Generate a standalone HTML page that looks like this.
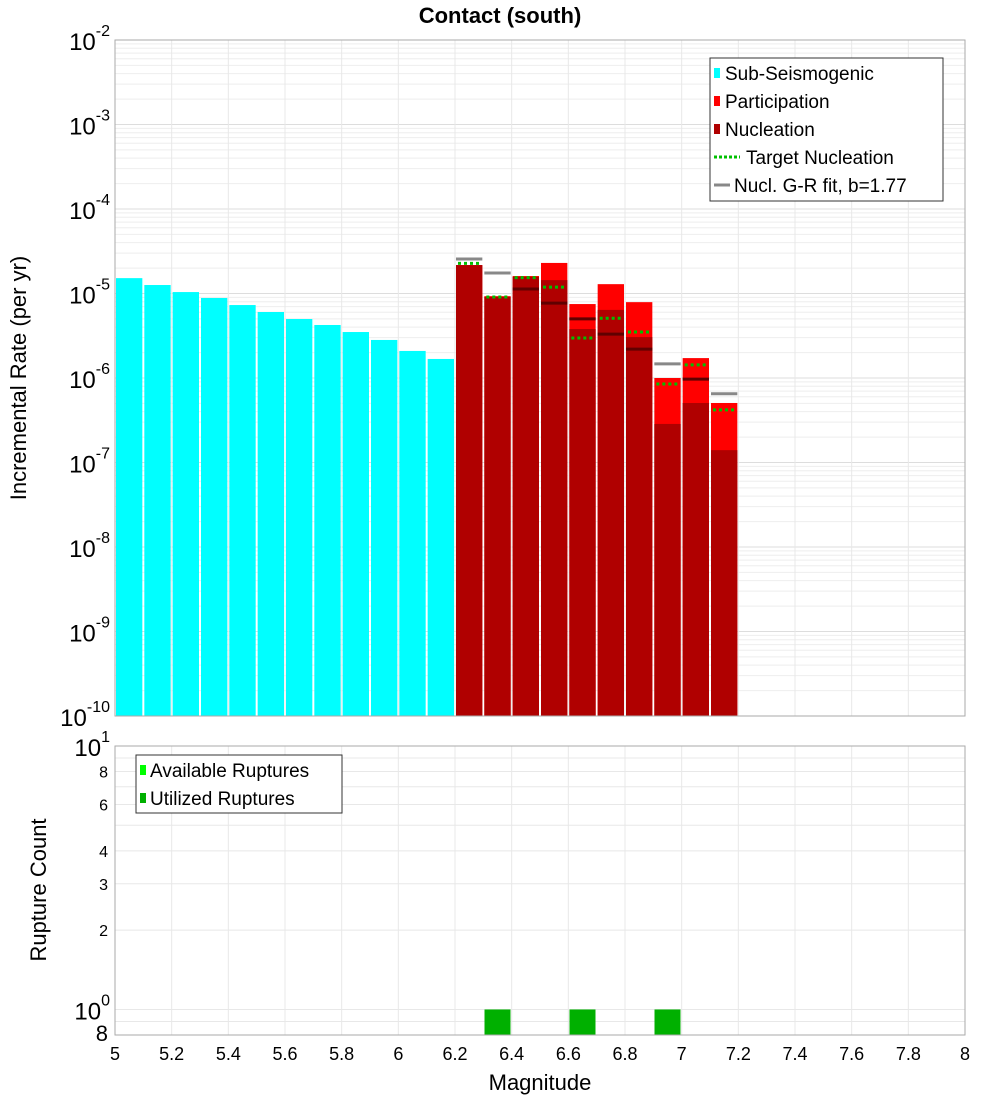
<!DOCTYPE html>
<html><head><meta charset="utf-8"><style>
body{margin:0;background:#fff;width:1000px;height:1100px;overflow:hidden}
svg{font-family:"Liberation Sans","DejaVu Sans",sans-serif}
</style></head><body>
<svg id="c" width="1000" height="1100"></svg>
<script>
const bins=[5.05,5.15,5.25,5.35,5.45,5.55,5.65,5.75,5.85,5.95,6.05,6.15];
const subSeis=[1.52e-5,1.26e-5,1.04e-5,8.85e-6,7.3e-6,6.04e-6,4.99e-6,4.24e-6,3.5e-6,2.82e-6,2.09e-6,1.68e-6];
const supBins=[6.25,6.35,6.45,6.55,6.65,6.75,6.85,6.95,7.05,7.15];
const particip=[2.17e-5,9.3e-6,1.61e-5,2.3e-5,7.5e-6,1.29e-5,7.9e-6,1.0e-6,1.72e-6,5.06e-7];
const nucl=[2.17e-5,9.1e-6,1.57e-5,1.44e-5,3.8e-6,6.4e-6,3.05e-6,2.86e-7,5.06e-7,1.4e-7];
const target=[2.27e-5,9.1e-6,1.54e-5,1.19e-5,2.97e-6,5.1e-6,3.5e-6,8.5e-7,1.43e-6,4.2e-7];
const grFit=[2.56e-5,1.75e-5,1.13e-5,7.7e-6,5.0e-6,3.3e-6,2.2e-6,1.47e-6,9.7e-7,6.5e-7];
const ruptMags=[6.35,6.65,6.95];
const ruptCounts=[1,1,1];
const xTicks=[5,5.2,5.4,5.6,5.8,6,6.2,6.4,6.6,6.8,7,7.2,7.4,7.6,7.8,8];
const topExps=[-10,-9,-8,-7,-6,-5,-4,-3,-2];

const NS="http://www.w3.org/2000/svg";const svg=document.getElementById('c');
function el(t,a,txt){const e=document.createElementNS(NS,t);for(const k in a)e.setAttribute(k,a[k]);if(txt!==undefined)e.textContent=txt;svg.appendChild(e);return e;}
const X0=115,X1=965;const xs=m=>X0+(m-5)/3*(X1-X0);
const T0=40,T1=716;const ys=v=>T0+(-2-Math.log10(v))/8*(T1-T0);
const B0=746,B1=1035;const yb=v=>B0+(1-Math.log10(v))/(1-Math.log10(0.8))*(B1-B0);
const bw=(X1-X0)/30;

// top grid
let g;
for(const e of topExps){for(let k=1;k<10;k++){const v=k*Math.pow(10,e);if(v>0.0100001)continue;const y=ys(v);
g=el('line',{x1:X0,x2:X1,y1:y,y2:y,stroke:k==1?'#ddd':'#eee','stroke-width':1});
}}
for(const t of xTicks){const x=xs(t);
g=el('line',{x1:x,x2:x,y1:T0,y2:T1,stroke:'#e8e8e8'});
g=el('line',{x1:x,x2:x,y1:B0,y2:B1,stroke:'#e8e8e8'});}
for(const v of [0.8,0.9,1,2,3,4,5,6,7,8,9,10]){const y=yb(v);
g=el('line',{x1:X0,x2:X1,y1:y,y2:y,stroke:'#e8e8e8'});}

// sub-seismogenic
bins.forEach((m,i)=>{const y=ys(subSeis[i]);const b=el('rect',{x:xs(m)-bw/2+1,y:y,width:bw-2,height:T1-y,fill:'#00ffff'});
});
supBins.forEach((m,i)=>{let y=ys(particip[i]);let b=el('rect',{x:xs(m)-bw/2+1,y:y,width:bw-2,height:T1-y,fill:'#ff0000'});

y=ys(nucl[i]);b=el('rect',{x:xs(m)-bw/2+1,y:y,width:bw-2,height:T1-y,fill:'#b00000'});
});
supBins.forEach((m,i)=>{const y=ys(grFit[i]);const inside=grFit[i]<particip[i];
const l=el('line',{x1:xs(m)-bw/2+1,x2:xs(m)+bw/2-1,y1:y,y2:y,stroke:inside?'#600000':'#888','stroke-width':3});

const t=el('line',{x1:xs(m)-bw/2+3,x2:xs(m)+bw/2-3,y1:ys(target[i]),y2:ys(target[i]),stroke:'#00c000','stroke-width':3,'stroke-dasharray':'3,3'});
});

// bottom bars
ruptMags.forEach((m,i)=>{const y=yb(ruptCounts[i]);const b=el('rect',{x:xs(m)-13,y:y,width:26,height:B1-y,fill:'#00b000'});
});

// frames
g=el('rect',{x:X0,y:T0,width:X1-X0,height:T1-T0,fill:'none',stroke:'#aaa'});
g=el('rect',{x:X0,y:B0,width:X1-X0,height:B1-B0,fill:'none',stroke:'#aaa'});

// top y labels
for(const e of topExps){const y=ys(Math.pow(10,e));const t=el('text',{x:110,y:y+10,'text-anchor':'end','font-size':24});

const a=document.createElementNS(NS,'tspan');a.textContent='10';t.appendChild(a);
const b=document.createElementNS(NS,'tspan');b.setAttribute('dy','-14');b.setAttribute('font-size','16');b.textContent=String(e);t.appendChild(b);}
// bottom y labels
[[10,'10','1'],[1,'10','0']].forEach(([v,b,e])=>{const t=el('text',{x:110,y:yb(v)+10,'text-anchor':'end','font-size':24});

const a=document.createElementNS(NS,'tspan');a.textContent=b;t.appendChild(a);
const s=document.createElementNS(NS,'tspan');s.setAttribute('dy','-14');s.setAttribute('font-size','16');s.textContent=e;t.appendChild(s);});
[[8,16],[6,16],[4,16],[3,16],[2,16],[0.8,22]].forEach(([v,f])=>{const t=el('text',{x:108,y:yb(v)+6,'text-anchor':'end','font-size':f},String(v==0.8?8:v));
});
for(const v of xTicks){const t=el('text',{x:xs(v),y:1060,'text-anchor':'middle','font-size':18},String(v));
}

g=el('text',{x:500,y:23,'text-anchor':'middle','font-size':22,'font-weight':'bold'},'Contact (south)');
g=el('text',{x:540,y:1090,'text-anchor':'middle','font-size':22},'Magnitude');
g=el('text',{x:0,y:0,'text-anchor':'middle','font-size':22,transform:'translate(26,378) rotate(-90)'},'Incremental Rate (per yr)');
g=el('text',{x:0,y:0,'text-anchor':'middle','font-size':22,transform:'translate(46,890) rotate(-90)'},'Rupture Count');

// legends
g=el('rect',{x:710,y:58,width:233,height:143,fill:'#fff',stroke:'#333'});
const leg=[['Sub-Seismogenic','#00ffff','box'],['Participation','#ff0000','box'],['Nucleation','#b00000','box'],['Target Nucleation','#00c000','dot'],['Nucl. G-R fit, b=1.77','#888','line']];
leg.forEach((L,i)=>{const y=73+i*28;
if(L[2]=='box'){g=el('rect',{x:714,y:y-5,width:6,height:10,fill:L[1]});}
else if(L[2]=='dot'){g=el('line',{x1:714,x2:740,y1:y,y2:y,stroke:L[1],'stroke-width':3,'stroke-dasharray':'3,2'});}
else{g=el('line',{x1:714,x2:730,y1:y,y2:y,stroke:L[1],'stroke-width':3});}

g=el('text',{x:L[2]=='box'?725:(L[2]=='dot'?746:734),y:y+7,'font-size':19},L[0]);});
g=el('rect',{x:136,y:755,width:206,height:58,fill:'#fff',stroke:'#333'});
[['Available Ruptures','#00ff00'],['Utilized Ruptures','#00b000']].forEach((L,i)=>{const y=770+i*28;
g=el('rect',{x:140,y:y-5,width:6,height:10,fill:L[1]});
g=el('text',{x:150,y:y+7,'font-size':19},L[0]);});
</script>
</body></html>
